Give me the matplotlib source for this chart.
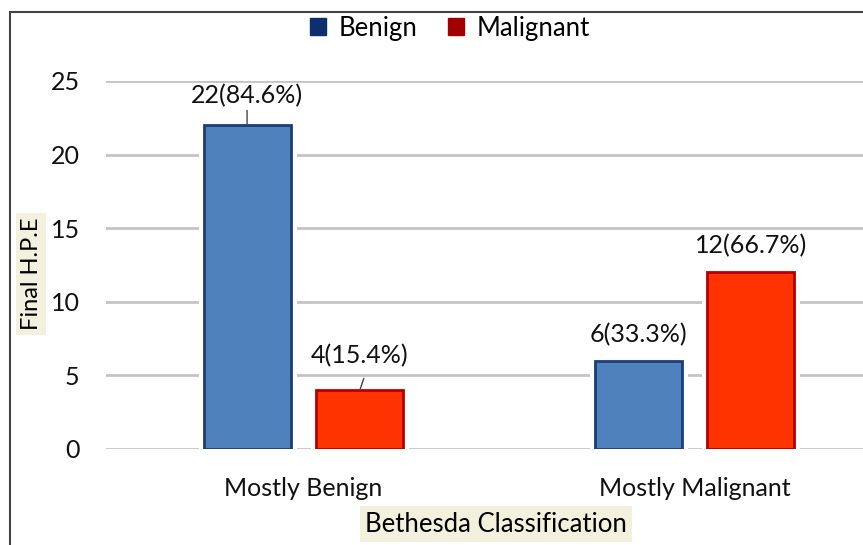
import numpy as np
import matplotlib
matplotlib.use("Agg")
import matplotlib.pyplot as plt
import matplotlib.patheffects as pe
from matplotlib.lines import Line2D

# ---- data ----
categories = ["Mostly Benign", "Mostly Malignant"]
series = ["Benign", "Malignant"]
benign = [22, 6]
malignant = [4, 12]
benign_lbl = ["22(84.6%)", "6(33.3%)"]
malignant_lbl = ["4(15.4%)", "12(66.7%)"]
yticks = [0, 5, 10, 15, 20, 25]

plt.rcParams["font.family"] = ["Lato", "DejaVu Sans"]

W, H = 863, 545
fig = plt.figure(figsize=(W / 100, H / 100), dpi=100)
ax = fig.add_axes([106 / W, 1 - 449 / H, 1 - 106 / W, (449 - 81) / H])

x = np.arange(len(categories))
bw = 0.222
off = 0.143
bars_b = ax.bar(x - off, benign, bw, color="#4f81bd", edgecolor="#1c3d78", linewidth=2, zorder=3)
bars_m = ax.bar(x + off, malignant, bw, color="#ff3300", edgecolor="#b40000", linewidth=2, zorder=3)
# white halo so gridlines stop short of the bars
for b in list(bars_b) + list(bars_m):
    b.set_path_effects([pe.Stroke(linewidth=8, foreground="white"), pe.Normal()])

ax.set_xlim(-0.503, 1.429)
ax.set_ylim(0, 25)
ax.set_yticks(yticks)
ax.yaxis.grid(True, color="#c4c4c4", linewidth=2)
ax.set_axisbelow(True)
for s in ax.spines.values():
    s.set_visible(False)
ax.tick_params(axis="both", length=0, labelsize=18, colors="#111111")
ax.tick_params(axis="y", pad=19)
ax.tick_params(axis="x", pad=20)
ax.set_xticks(x)
ax.set_xticklabels(categories)

# value labels, offsets in points above bar top
offs_b = [21.5, 19]
offs_m = [25, 19.5]
for i in range(len(categories)):
    ax.annotate(benign_lbl[i], (x[i] - off, benign[i]), xytext=(0, offs_b[i]), textcoords="offset points",
                ha="center", va="center", fontsize=18, color="#111111")
    ax.annotate(malignant_lbl[i], (x[i] + off, malignant[i]), xytext=(0, offs_m[i]), textcoords="offset points",
                ha="center", va="center", fontsize=18, color="#111111")
# leader lines on the first group
ax.annotate("", (x[0] - off, benign[0]), xytext=(x[0] - off, benign[0] + 1.0),
            arrowprops=dict(arrowstyle="-", color="#444444", lw=1, shrinkA=0, shrinkB=0))
ax.annotate("", (x[0] + off + 0.003, malignant[0] + 0.1), xytext=(x[0] + off + 0.012, malignant[0] + 0.8),
            arrowprops=dict(arrowstyle="-", color="#444444", lw=1, shrinkA=0, shrinkB=0))

# axis titles with beige boxes
box = dict(boxstyle="square,pad=0.2", facecolor="#f3f0de", edgecolor="none")
fig.text(31 / W, 1 - 274 / H, "Final H.P.E", rotation=90, ha="center", va="center",
         fontsize=17, bbox=box)
fig.text(496 / W, 1 - 524 / H, "Bethesda Classification", ha="center", va="center",
         fontsize=18.5, bbox=box)

# legend
handles = [plt.Rectangle((0, 0), 1, 1, color="#0e2f6e"), plt.Rectangle((0, 0), 1, 1, color="#a30000")]
fig.legend(handles, series, loc="center", bbox_to_anchor=(450 / W, 1 - 28 / H), ncol=2,
           frameon=False, fontsize=18.5, handlelength=0.6, handleheight=0.6,
           handletextpad=0.5, columnspacing=1.2)

# outer frame (left and top edges)
fig.add_artist(Line2D([10 / W, 10 / W], [0, 1 - 12 / H], color="#444444", lw=1.5))
fig.add_artist(Line2D([10 / W, 1], [1 - 12 / H, 1 - 12 / H], color="#444444", lw=1.5))

fig.savefig("out.png", dpi=100)
